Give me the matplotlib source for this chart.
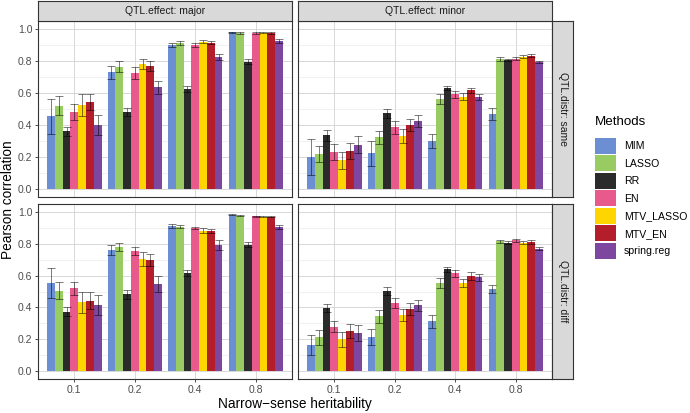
import numpy as np
import matplotlib.pyplot as plt
from matplotlib.patches import Patch

plt.rcParams['font.family'] = ['Liberation Sans', 'DejaVu Sans']

# ---- data ----
methods = ['MIM', 'LASSO', 'RR', 'EN', 'MTV_LASSO', 'MTV_EN', 'spring.reg']
method_colors = ['#6B8FD2', '#98CC62', '#2B2B2B', '#E8598C', '#FFD500', '#B41E2A', '#7D47A0']
heritability = ['0.1', '0.2', '0.4', '0.8']

# rows = heritability level, columns = methods
major_same = [
    [0.455, 0.520, 0.360, 0.480, 0.525, 0.545, 0.400],
    [0.730, 0.765, 0.480, 0.725, 0.780, 0.770, 0.635],
    [0.900, 0.910, 0.625, 0.900, 0.920, 0.915, 0.825],
    [0.980, 0.975, 0.795, 0.975, 0.976, 0.975, 0.925],
]
major_same_err = [
    [0.110, 0.060, 0.030, 0.050, 0.068, 0.050, 0.065],
    [0.040, 0.035, 0.025, 0.035, 0.030, 0.030, 0.040],
    [0.015, 0.012, 0.020, 0.012, 0.010, 0.010, 0.018],
    [0.004, 0.004, 0.015, 0.005, 0.003, 0.004, 0.010],
]
minor_same = [
    [0.200, 0.219, 0.335, 0.231, 0.179, 0.238, 0.277],
    [0.223, 0.323, 0.473, 0.385, 0.333, 0.402, 0.425],
    [0.301, 0.564, 0.631, 0.591, 0.577, 0.616, 0.575],
    [0.469, 0.812, 0.806, 0.814, 0.827, 0.833, 0.794],
]
minor_same_err = [
    [0.115, 0.050, 0.033, 0.048, 0.053, 0.050, 0.053],
    [0.080, 0.040, 0.030, 0.042, 0.045, 0.038, 0.040],
    [0.042, 0.030, 0.015, 0.020, 0.020, 0.015, 0.020],
    [0.037, 0.010, 0.008, 0.010, 0.010, 0.010, 0.008],
]
major_diff = [
    [0.553, 0.505, 0.374, 0.520, 0.432, 0.443, 0.418],
    [0.760, 0.781, 0.482, 0.756, 0.706, 0.699, 0.549],
    [0.914, 0.908, 0.616, 0.900, 0.883, 0.881, 0.791],
    [0.983, 0.977, 0.795, 0.973, 0.971, 0.971, 0.906],
]
major_diff_err = [
    [0.092, 0.055, 0.030, 0.040, 0.068, 0.055, 0.063],
    [0.030, 0.025, 0.030, 0.026, 0.044, 0.038, 0.050],
    [0.012, 0.010, 0.020, 0.008, 0.015, 0.012, 0.030],
    [0.002, 0.003, 0.015, 0.004, 0.003, 0.003, 0.012],
]
minor_diff = [
    [0.163, 0.213, 0.395, 0.278, 0.200, 0.250, 0.240],
    [0.215, 0.344, 0.505, 0.428, 0.355, 0.390, 0.413],
    [0.313, 0.555, 0.639, 0.614, 0.553, 0.595, 0.589],
    [0.516, 0.816, 0.806, 0.823, 0.808, 0.812, 0.770],
]
minor_diff_err = [
    [0.065, 0.047, 0.025, 0.035, 0.048, 0.043, 0.052],
    [0.052, 0.042, 0.025, 0.033, 0.038, 0.038, 0.033],
    [0.042, 0.030, 0.015, 0.020, 0.025, 0.025, 0.020],
    [0.025, 0.010, 0.010, 0.010, 0.010, 0.012, 0.012],
]

# ---- layout helpers (pixel boxes -> figure fractions) ----
W, H = 690, 413
def box(x0, y0, x1, y1):
    return [x0 / W, 1 - y1 / H, (x1 - x0) / W, (y1 - y0) / H]

fig = plt.figure(figsize=(6.9, 4.13), dpi=100)

panels = [
    (box(38, 21, 292, 197), major_same, major_same_err, True, False),
    (box(298, 21, 552, 197), minor_same, minor_same_err, False, False),
    (box(38, 204, 292, 379), major_diff, major_diff_err, True, True),
    (box(298, 204, 552, 379), minor_diff, minor_diff_err, False, True),
]

n_m = len(methods)
bw = 0.9 / n_m
grp = np.arange(1, len(heritability) + 1)

for rect, vals, errs, show_y, show_x in panels:
    ax = fig.add_axes(rect)
    vals = np.array(vals)
    errs = np.array(errs)
    for j in range(n_m):
        xs = grp + (j - (n_m - 1) / 2) * bw
        ax.bar(xs, vals[:, j], width=bw, color=method_colors[j], zorder=2, linewidth=0)
        ax.errorbar(xs, vals[:, j], yerr=errs[:, j], fmt='none', ecolor='black',
                    alpha=0.6, elinewidth=0.6, capsize=2.6, capthick=0.6, zorder=3)
    ax.set_xlim(0.4, 4.6)
    ax.set_ylim(-0.05, 1.05)
    ax.set_xticks(grp)
    ax.set_yticks([0, 0.2, 0.4, 0.6, 0.8, 1.0])
    ax.set_yticks([0.1, 0.3, 0.5, 0.7, 0.9], minor=True)
    ax.grid(True, which='major', color='#D2D2D2', linewidth=0.6, zorder=0)
    ax.grid(True, which='minor', axis='y', color='#E6E6E6', linewidth=0.4, zorder=0)
    ax.set_axisbelow(True)
    for s in ax.spines.values():
        s.set_color('#333333')
        s.set_linewidth(0.8)
    ax.tick_params(which='minor', length=0)
    ax.tick_params(which='major', length=2.5, width=0.6, color='#333333',
                   labelsize=7.5, labelcolor='#4D4D4D', pad=1.5)
    if show_y:
        ax.set_yticklabels(['0.0', '0.2', '0.4', '0.6', '0.8', '1.0'])
    else:
        ax.tick_params(axis='y', left=False, labelleft=False)
    if show_x:
        ax.set_xticklabels(heritability)
    else:
        ax.tick_params(axis='x', bottom=False, labelbottom=False)

# ---- facet strips ----
def strip(rect, label, rotation=0):
    s = fig.add_axes(rect)
    s.set_facecolor('#D9D9D9')
    s.set_xticks([])
    s.set_yticks([])
    for sp in s.spines.values():
        sp.set_color('#333333')
        sp.set_linewidth(0.8)
    s.text(0.5, 0.5, label, ha='center', va='center', rotation=rotation,
           fontsize=7.5, color='#1A1A1A', transform=s.transAxes)

strip(box(38, 1, 292, 21), 'QTL.effect: major')
strip(box(298, 1, 552, 21), 'QTL.effect: minor')
strip(box(552, 21, 573, 197), 'QTL.distr: same', rotation=-90)
strip(box(552, 204, 573, 379), 'QTL.distr: diff', rotation=-90)

# ---- axis titles ----
fig.text(8 / W, 1 - 200 / H, 'Pearson correlation', rotation=90, ha='center', va='center', fontsize=9.8)
fig.text(295 / W, 1 - 404 / H, 'Narrow\u2212sense heritability', ha='center', va='center', fontsize=9.8)

# ---- legend ----
handles = [Patch(facecolor=c, edgecolor='none') for c in method_colors]
leg = fig.legend(handles, methods, loc='upper left', bbox_to_anchor=(595 / W, 1 - 116 / H),
                 frameon=False, fontsize=7.6, title='Methods', title_fontsize=9.6,
                 handlelength=1.95, handleheight=1.95, labelspacing=0.15,
                 handletextpad=0.8, borderpad=0, borderaxespad=0)
leg._legend_box.align = 'left'
leg._legend_box.sep = 7

fig.savefig('out.png', dpi=100)
